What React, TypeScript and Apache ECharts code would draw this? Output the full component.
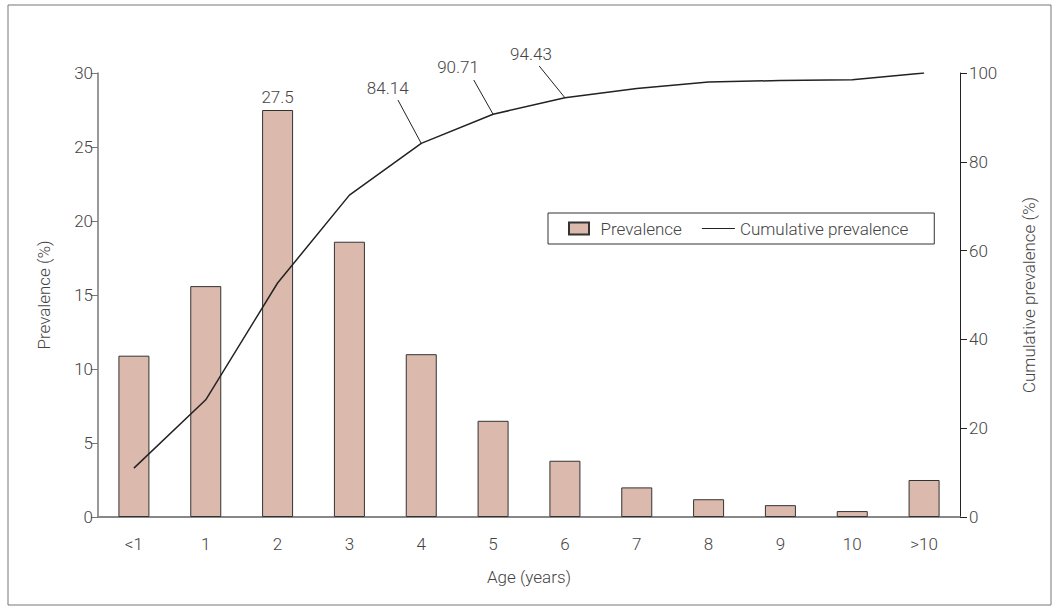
import React, { useEffect, useRef } from "react";
import * as echarts from "echarts";

const categories = ["<1", "1", "2", "3", "4", "5", "6", "7", "8", "9", "10", ">10"];
const prevalence = [10.9, 15.6, 27.5, 18.6, 11.0, 6.5, 3.8, 2.0, 1.2, 0.8, 0.4, 2.5];
const cumulative = [11.0, 26.4, 52.7, 72.5, 84.14, 90.71, 94.43, 96.5, 98.0, 98.3, 98.5, 100];
const labeledBarIndex = [2];
const labeledLineIndex = [4, 5, 6];
// [textDx, textDy, leaderStartDx, leaderStartDy] relative to the data point
const calloutOffsets: Record<number, [number, number, number, number]> = {
  4: [-33.5, -55, -23.3, -43.4],
  5: [-35, -47.5, -19.3, -34.2],
  6: [-34, -43.7, -25.7, -31.7],
};

const FONT = "Roboto";
const FS = 17;
const FW = 300;
const TXT = "#444";

export default function App() {
  const ref = useRef<HTMLDivElement>(null);
  useEffect(() => {
    document.body.style.margin = "0";
    const chart = echarts.init(ref.current!, null, { renderer: "svg" });
    const txt = { color: TXT, fontSize: FS, fontFamily: FONT, fontWeight: FW };
    const barData = prevalence.map((v, i) =>
      labeledBarIndex.includes(i)
        ? { value: v, label: { show: true, position: "top", distance: 5, ...txt } }
        : v
    );
    const calloutData = labeledLineIndex.map((i) => [i, cumulative[i]]);
    chart.setOption({
      animation: false,
      textStyle: { fontFamily: FONT },
      graphic: [
        {
          type: "rect",
          shape: { x: 8, y: 5, width: 1043, height: 600 },
          style: { fill: "none", stroke: "#777", lineWidth: 1 },
          silent: true,
        },
      ],
      grid: { left: 98, right: 99, top: 73, bottom: 97, containLabel: false },
      legend: {
        left: 548,
        top: 213,
        padding: [7, 26, 7, 20],
        borderColor: "#333",
        borderWidth: 1,
        itemWidth: 33,
        itemHeight: 12,
        itemGap: 20,
        textStyle: { ...txt },
        data: [
          { name: "Prevalence", icon: "path://M0,0h20v12h-20z" },
          { name: "Cumulative prevalence", icon: "path://M0,0h33v1.2h-33z" },
        ],
      },
      xAxis: {
        type: "category",
        data: categories,
        boundaryGap: true,
        name: "Age (years)",
        nameLocation: "middle",
        nameGap: 51,
        nameTextStyle: { ...txt },
        axisLine: { lineStyle: { color: "#888", width: 2 } },
        axisTick: { show: false },
        axisLabel: { ...txt, margin: 18 },
      },
      yAxis: [
        {
          type: "value",
          min: 0,
          max: 30,
          interval: 5,
          name: "Prevalence (%)",
          nameLocation: "middle",
          nameGap: 46,
          nameTextStyle: { ...txt },
          axisLine: { show: true, lineStyle: { color: "#777", width: 1.5 } },
          axisTick: { show: true, length: 7, lineStyle: { color: "#777" } },
          axisLabel: { ...txt, margin: 5 },
          splitLine: { show: false },
        },
        {
          type: "value",
          min: 0,
          max: 100,
          interval: 20,
          position: "right",
          name: "Cumulative prevalence (%)",
          nameLocation: "middle",
          nameGap: 60,
          nameTextStyle: { ...txt },
          axisLine: { show: true, lineStyle: { color: "#222", width: 1 } },
          axisTick: { show: true, length: 7, lineStyle: { color: "#222" } },
          axisLabel: { ...txt, margin: 9 },
          splitLine: { show: false },
        },
      ],
      series: [
        {
          name: "Prevalence",
          type: "bar",
          data: barData,
          barWidth: 31,
          itemStyle: { color: "#dbb9ac", borderColor: "#333", borderWidth: 1 },
          yAxisIndex: 0,
        },
        {
          name: "Cumulative prevalence",
          type: "line",
          yAxisIndex: 1,
          data: cumulative,
          symbol: "none",
          itemStyle: { color: "#222" },
          lineStyle: { color: "#222", width: 1.5 },
          z: 5,
        },
        {
          name: "callouts",
          type: "custom",
          yAxisIndex: 1,
          data: calloutData,
          encode: { x: 0, y: 1 },
          silent: true,
          z: 6,
          renderItem: (params: any, api: any) => {
            const idx = api.value(0);
            const val = api.value(1);
            const p = api.coord([idx, val]);
            const o = calloutOffsets[idx];
            return {
              type: "group",
              children: [
                {
                  type: "line",
                  shape: { x1: p[0] + o[2], y1: p[1] + o[3], x2: p[0], y2: p[1] },
                  style: { stroke: "#222", lineWidth: 1 },
                },
                {
                  type: "text",
                  x: p[0] + o[0],
                  y: p[1] + o[1],
                  style: {
                    text: String(val),
                    fill: TXT,
                    font: `${FW} ${FS}px ${FONT}`,
                    align: "center",
                    verticalAlign: "middle",
                  },
                },
              ],
            };
          },
        },
      ],
    });
    return () => chart.dispose();
  }, []);
  return <div ref={ref} style={{ width: 1059, height: 614 }} />;
}
